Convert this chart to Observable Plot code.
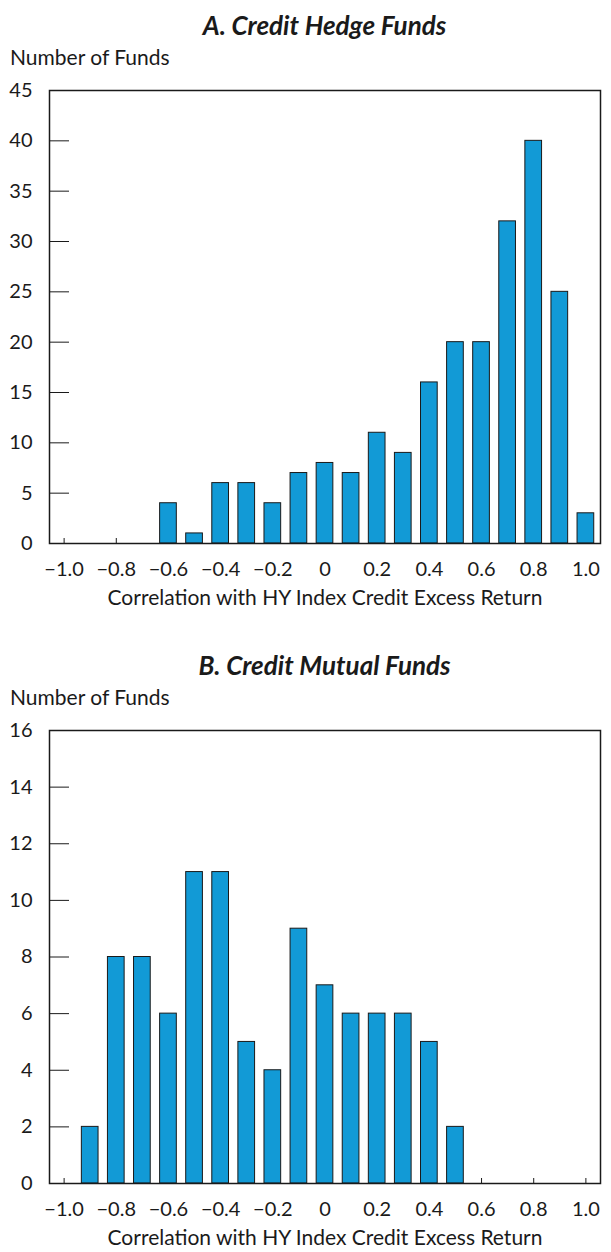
<!DOCTYPE html>
<html>
<head>
<meta charset="utf-8">
<script src="https://cdn.jsdelivr.net/npm/d3@7"></script>
<script src="https://cdn.jsdelivr.net/npm/@observablehq/plot@0.6"></script>
<style>
  html, body { margin: 0; padding: 0; background: #fff; }
  #wrap { position: relative; width: 611px; height: 1252px; font-family: Lato, "Open Sans", sans-serif; color: #1a1a1a; }
  .title { position: absolute; left: 0; width: 611px; text-align: center; font-weight: bold; font-style: italic; font-size: 26px; line-height: 30px; padding-left: 38px; box-sizing: border-box; z-index: 2; }
  .ylab { position: absolute; left: 10px; font-size: 21px; line-height: 24px; z-index: 2; }
  .panel { position: absolute; left: 0; z-index: 1; }
</style>
</head>
<body>
<div id="wrap">
  <div class="title" style="top:10px">A. Credit Hedge Funds</div>
  <div class="ylab" style="top:45px">Number of Funds</div>
  <div class="panel" id="pa" style="top:60px"></div>
  <div class="title" style="top:650px">B. Credit Mutual Funds</div>
  <div class="ylab" style="top:685px">Number of Funds</div>
  <div class="panel" id="pb" style="top:700px"></div>
</div>
<script>
// bin centres (correlation buckets)
const bins = [-1.0, -0.9, -0.8, -0.7, -0.6, -0.5, -0.4, -0.3, -0.2, -0.1, 0, 0.1, 0.2, 0.3, 0.4, 0.5, 0.6, 0.7, 0.8, 0.9, 1.0];
// number of funds per bucket
const hedgeCounts  = [0, 0, 0, 0, 4, 1, 6, 6, 4, 7, 8, 7, 11, 9, 16, 20, 20, 32, 40, 25, 3];
const mutualCounts = [0, 2, 8, 8, 6, 11, 11, 5, 4, 9, 7, 6, 6, 6, 5, 2, 0, 0, 0, 0, 0];
// axis ticks
const xTicks = [-1.0, -0.8, -0.6, -0.4, -0.2, 0, 0.2, 0.4, 0.6, 0.8, 1.0];
const xTickLabels = ["\u22121.0", "\u22120.8", "\u22120.6", "\u22120.4", "\u22120.2", "0", "0.2", "0.4", "0.6", "0.8", "1.0"];
const hedgeYTicks = [0, 5, 10, 15, 20, 25, 30, 35, 40, 45];
const mutualYTicks = [0, 2, 4, 6, 8, 10, 12, 14, 16];
const xTitle = "Correlation with HY Index Credit Excess Return";

function panel(counts, yTicks, height, marginBottom) {
  const data = bins.map((x, i) => ({x, n: counts[i]})).filter(d => d.n > 0);
  const half = 0.032;
  return Plot.plot({
    width: 611,
    height,
    marginLeft: 49,
    marginRight: 11,
    marginTop: 30,
    marginBottom,
    style: {fontFamily: "Lato, 'Open Sans', sans-serif", fontSize: "20px", color: "#1a1a1a", background: "transparent"},
    x: {domain: [-1.056, 1.056]},
    y: {domain: [yTicks[0], yTicks[yTicks.length - 1]]},
    marks: [
      Plot.axisX(xTicks, {tickSize: -5, tickFormat: () => "", label: null, stroke: "#1a1a1a"}),
      Plot.axisY(yTicks, {tickSize: -20, tickFormat: () => "", label: null, stroke: "#1a1a1a"}),
      Plot.rectY(data, {x1: d => d.x - half, x2: d => d.x + half, y: "n", fill: "#129ad6", stroke: "#1a1a1a", strokeWidth: 1}),
      Plot.axisX(xTicks, {tickSize: 0, tickPadding: 18, tickFormat: d => xTickLabels[xTicks.indexOf(d)], label: null, fontSize: 20}),
      Plot.axisY(yTicks, {tickSize: 0, tickPadding: 17, label: null, fontSize: 20}),
      Plot.text([xTitle], {text: d => d, frameAnchor: "bottom", dy: 61, fontSize: 21}),
      Plot.frame({stroke: "#1a1a1a", strokeWidth: 1.5})
    ]
  });
}

document.getElementById("pa").append(panel(hedgeCounts, hedgeYTicks, 560, 77));
document.getElementById("pb").append(panel(mutualCounts, mutualYTicks, 552, 69));
</script>
</body>
</html>
